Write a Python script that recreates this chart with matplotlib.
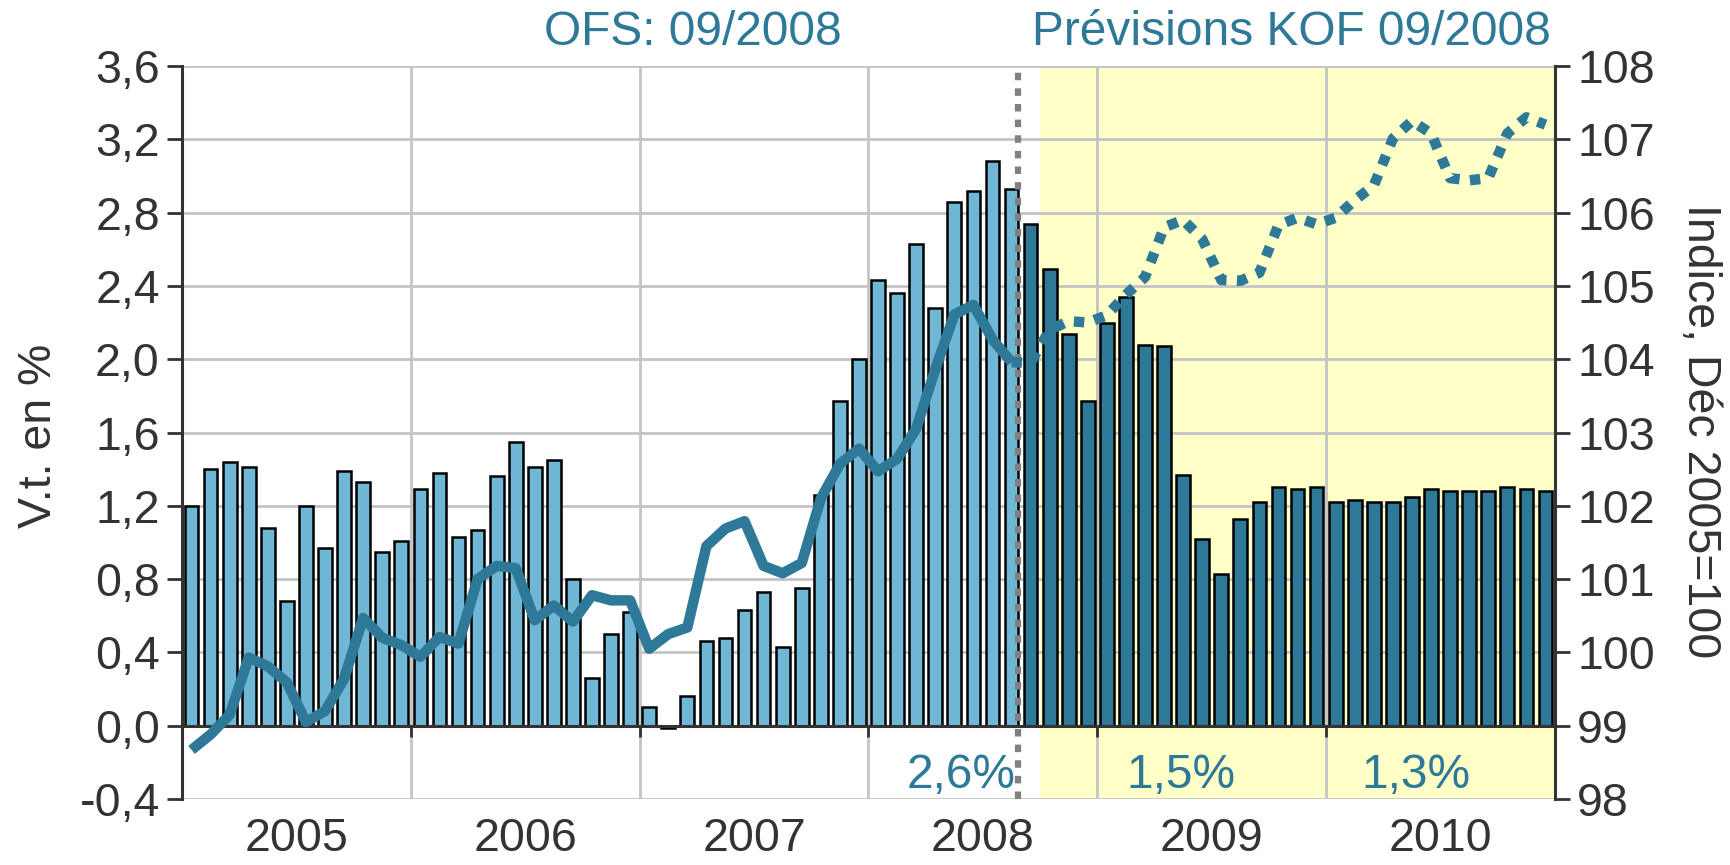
import numpy as np
import matplotlib.pyplot as plt
import matplotlib as mpl

mpl.use("Agg")
plt.rcParams['font.family'] = ['Liberation Sans', 'DejaVu Sans']

# monthly data Jan 2005 - Dec 2010
years = ['2005', '2006', '2007', '2008', '2009', '2010']
vt = [1.20, 1.40, 1.44, 1.41, 1.08, 0.68, 1.20, 0.97, 1.39, 1.33, 0.95, 1.01,
      1.29, 1.38, 1.03, 1.07, 1.36, 1.55, 1.41, 1.45, 0.80, 0.26, 0.50, 0.62,
      0.10, -0.01, 0.16, 0.46, 0.48, 0.63, 0.73, 0.43, 0.75, 1.26, 1.77, 2.00,
      2.43, 2.36, 2.63, 2.28, 2.86, 2.92, 3.08, 2.93, 2.74, 2.49, 2.14, 1.77,
      2.20, 2.34, 2.08, 2.07, 1.37, 1.02, 0.83, 1.13, 1.22, 1.30, 1.29, 1.30,
      1.22, 1.23, 1.22, 1.22, 1.25, 1.29, 1.28, 1.28, 1.28, 1.30, 1.29, 1.28]
indice = [98.67, 98.88, 99.15, 99.93, 99.81, 99.59, 99.05, 99.20, 99.64, 100.47, 100.20, 100.10,
          99.94, 100.21, 100.12, 101.00, 101.18, 101.15, 100.44, 100.64, 100.42, 100.78, 100.71, 100.71,
          100.05, 100.25, 100.34, 101.45, 101.69, 101.79, 101.18, 101.08, 101.22, 102.10, 102.57, 102.78,
          102.47, 102.64, 103.05, 103.86, 104.61, 104.74, 104.27, 103.96, 103.95, 104.40, 104.52, 104.50,
          104.60, 104.88, 105.12, 105.80, 105.90, 105.64, 105.08, 105.07, 105.18, 105.83, 105.93, 105.84,
          105.93, 106.17, 106.37, 107.01, 107.25, 107.08, 106.47, 106.44, 106.47, 107.08, 107.30, 107.20]
last_obs = 43  # Aug 2008, last OFS month
pct_labels = ['2,6%', '1,5%', '1,3%']

teal = '#2E7898'
light = '#6FB7D5'
dark = '#2E7898'
txt = '#333333'
fs = 33.5
fs_big = 34.5

x = np.arange(len(vt))
fig = plt.figure(figsize=(17.31, 8.65), dpi=100)
ax = fig.add_axes([182/1731, 1-799/865, (1555-182)/1731, (799-66)/865])

ax.axvspan(last_obs + 1.5, len(vt) - 0.5, color='#FFFFC8', zorder=0.2, lw=0)
colors = [light if i <= last_obs else dark for i in x]
ax.bar(x, vt, width=0.72, color=colors, edgecolor='black', linewidth=1.8, zorder=2)

ax.set_xlim(-0.5, len(vt) - 0.5)
ax.set_ylim(-0.4, 3.6)
yt = np.arange(-0.4, 3.61, 0.4)
ax.set_yticks(yt)
ax.set_yticklabels([f'{v:.1f}'.replace('.', ',').replace('-0,0', '0,0') for v in yt])
ax.set_xticks(np.arange(11.5, len(vt) - 1, 12))
ax.set_xticklabels([])
ax.set_axisbelow(True)
ax.grid(True, color='#C4C4C4', lw=2)
ax.spines['top'].set_visible(False)
ax.spines['right'].set_visible(False)
ax.spines['bottom'].set_position(('data', 0))
ax.spines['bottom'].set_color(txt)
ax.spines['bottom'].set_linewidth(2.2)
ax.spines['bottom'].set_zorder(3)
ax.spines['left'].set_color(txt)
ax.spines['left'].set_linewidth(2.2)
ax.tick_params(axis='y', length=11, width=2, color=txt, labelsize=fs, labelcolor=txt, pad=5)
ax.tick_params(axis='x', length=8, width=2, color=txt, direction='out')

for k, yr in enumerate(years):
    ax.text(12 * k + 5.5, -0.62, yr, ha='center', va='center', fontsize=fs, color=txt, clip_on=False)

ax.axvline(last_obs + 0.35, color='#808080', lw=4.5, ls=(0, (1.2, 1.3)), zorder=3)

ax.text(last_obs + 0.2, -0.27, pct_labels[0], ha='right', va='center', fontsize=fs_big, color=teal, zorder=4)
ax.text(51.9, -0.27, pct_labels[1], ha='center', va='center', fontsize=fs_big, color=teal, zorder=4)
ax.text(64.2, -0.27, pct_labels[2], ha='center', va='center', fontsize=fs_big, color=teal, zorder=4)

ax2 = ax.twinx()
ax2.set_ylim(98, 108)
ax2.set_yticks(np.arange(98, 109, 1))
ax2.plot(x[:last_obs + 1], indice[:last_obs + 1], color=teal, lw=7.5, solid_capstyle='butt')
ax2.plot(x[last_obs:], indice[last_obs:], color=teal, lw=7.5, ls=(0, (1.0, 1.0)), dash_capstyle='butt')
for s in ['top', 'left', 'bottom']:
    ax2.spines[s].set_visible(False)
ax2.spines['right'].set_color(txt)
ax2.spines['right'].set_linewidth(2.2)
ax2.tick_params(axis='y', length=11, width=2, color=txt, labelsize=fs, labelcolor=txt, pad=5)

fig.text(0.0225, 0.496, 'V.t. en %', rotation=90, ha='center', va='center', fontsize=fs, color=txt)
fig.text(0.982, 0.502, 'Indice, Déc 2005=100', rotation=270, ha='center', va='center', fontsize=fs,
         color=txt, family=['Liberation Sans Narrow', 'Liberation Sans'])
fig.text(0.400, 0.962, 'OFS: 09/2008', ha='center', va='center', fontsize=fs_big, color=teal)
fig.text(0.746, 0.962, 'Prévisions KOF 09/2008', ha='center', va='center', fontsize=fs_big, color=teal)

fig.savefig('out.png', dpi=100)
